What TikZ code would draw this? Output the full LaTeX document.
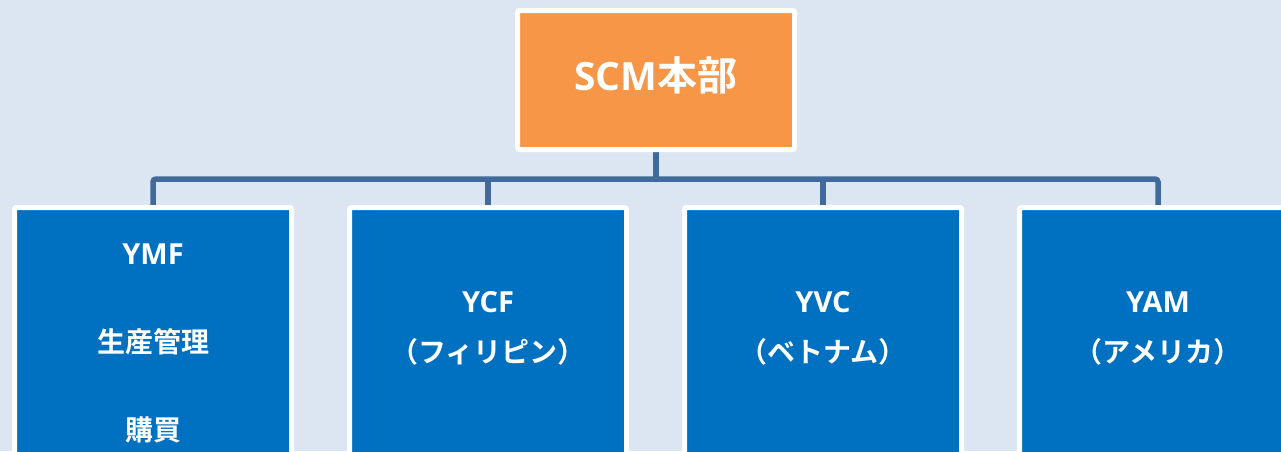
\documentclass[tikz,border=0pt]{standalone}
\usepackage{fontspec}
\setmainfont{Noto Sans CJK JP}[BoldFont={* Bold}]
\newfontfamily\jpb{Noto Sans CJK JP Bold}
\newfontfamily\latb{Open Sans}[UprightFont={* Bold}]
\definecolor{bgc}{HTML}{DCE6F2}
\definecolor{orgc}{HTML}{F79646}
\definecolor{bluc}{HTML}{0070C0}
\definecolor{linc}{HTML}{41699B}
\pgfdeclarelayer{bgl}
\pgfdeclarelayer{conl}
\pgfsetlayers{bgl,conl,main}
\tikzset{
  topbox/.style={draw=white, line width=5pt, fill=orgc, inner sep=0pt, rounded corners=2pt, minimum width=277pt, minimum height=139pt},
  subbox/.style={draw=white, line width=5pt, fill=bluc, inner sep=0pt, rounded corners=2pt, minimum width=277pt, minimum height=292.5pt},
  conn/.style={draw=linc, line width=5.5pt, rounded corners=3pt},
  lbl/.style={text=white, font=\jpb\fontsize{28}{30}\selectfont, anchor=base, inner sep=0pt},
  latlbl/.style={text=white, font=\latb\fontsize{29}{31}\selectfont, anchor=base, inner sep=0pt},
  biglbl/.style={text=white, font=\jpb\fontsize{40}{44}\selectfont, anchor=base, inner sep=0pt}
}
\begin{document}
\begin{tikzpicture}[x=1pt,y=-1pt]
\begin{pgfonlayer}{bgl}
\fill[bgc] (0,0) rectangle (1281,451);
\end{pgfonlayer}
\useasboundingbox (0,0) rectangle (1281,451);
\clip (0,0) rectangle (1281,451);
\node[topbox] (scm) at (656,80) {};
\node[subbox] (b1) at (153,353.75) {};
\node[subbox] (b2) at (488,353.75) {};
\node[subbox] (b3) at (823,353.75) {};
\node[subbox] (b4) at (1158,353.75) {};
\coordinate (bus) at (656,179);
\begin{pgfonlayer}{conl}
\draw[conn] (b1.north) -- (b1.north |- bus) -- (b4.north |- bus) -- (b4.north);
\draw[conn] (scm.south) -- (bus);
\draw[conn] (b2.north) -- (b2.north |- bus);
\draw[conn] (b3.north) -- (b3.north |- bus);
\end{pgfonlayer}
\node[biglbl] (t0) at (656,90) {{\latb\fontsize{39}{44}\selectfont SCM}本部};
\node[latlbl] (t1a) at (153,264) {YMF};
\node[lbl] (t1b) at (153,352) {生産管理};
\node[lbl] (t1c) at (153,440) {購買};
\node[latlbl] (t2a) at (488,312) {YCF};
\node[lbl] (t2b) at (488,362) {（フィリピン）};
\node[latlbl] (t3a) at (823,312) {YVC};
\node[lbl] (t3b) at (823,362) {（ベトナム）};
\node[latlbl] (t4a) at (1158,312) {YAM};
\node[lbl] (t4b) at (1158,362) {（アメリカ）};
\end{tikzpicture}
\end{document}
